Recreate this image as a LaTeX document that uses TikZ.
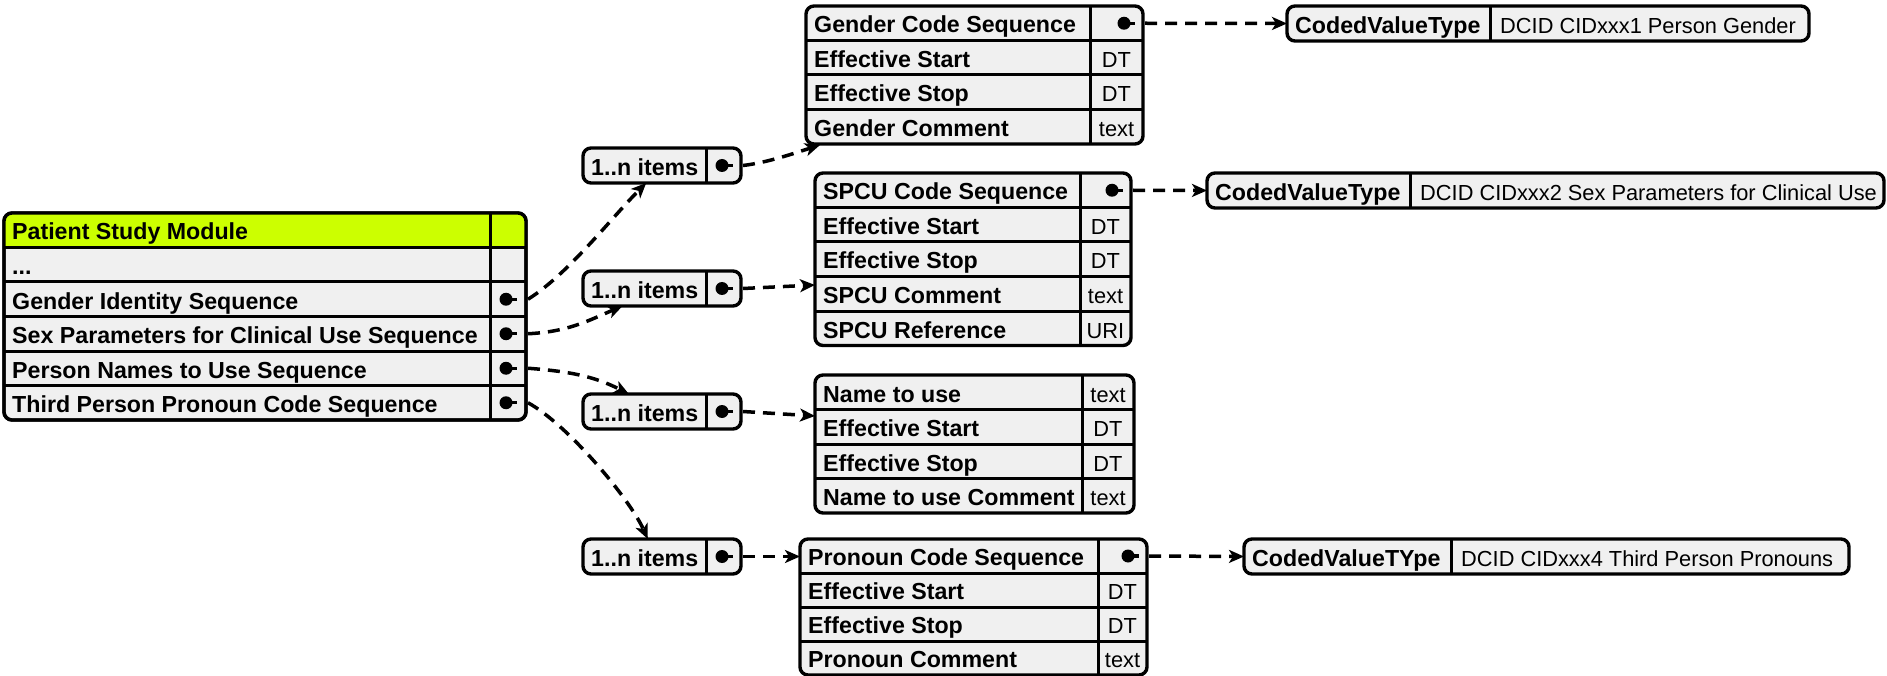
\documentclass[tikz,border=0pt]{standalone}
\usepackage{fontspec}
\setmainfont{Liberation Sans}
\usetikzlibrary{arrows.meta,calc}
\definecolor{cellgray}{RGB}{240,240,240}
\definecolor{hdrgreen}{RGB}{204,255,0}
\def\mydots{...}
\tikzset{
 frame/.style={draw=black, line width=3.4pt, rounded corners=8pt, fill=cellgray, inner sep=0pt, outer sep=0pt, anchor=north west},
 sepl/.style={line width=3pt},
 lbl/.style={anchor=base west, inner sep=0pt, font=\fontsize{23.2}{28}\selectfont\bfseries},
 val/.style={anchor=base, inner sep=0pt, font=\fontsize{21.8}{26}\selectfont},
 vall/.style={anchor=base west, inner sep=0pt, font=\fontsize{21.8}{26}\selectfont},
 dotc/.style={circle, fill=black, inner sep=0pt, minimum size=13pt},
 stub/.style={line width=3.2pt},
 link/.style={line width=3.5pt, dash pattern=on 12pt off 8pt, -{Stealth[length=15pt,width=13pt,inset=4pt]}},
}
\newcommand{\trows}[7]{%
 \foreach \a/\b [count=\i from 0] in {#7} {%
  \pgfmathsetmacro\yt{#5+#6*\i}%
  \pgfmathsetmacro\yb{#5+#6*(\i+1)}%
  \ifnum\i>0 \draw[sepl] (#2,\yt) -- (#4,\yt);\fi
  \node[lbl] (#1-l\i) at ({#2+8},{\yb-7.5}) {\a};
  \node[val] (#1-v\i) at ({(#3+#4)/2},{\yb-7.5}) {\b};
 }%
}
\begin{document}
\begin{tikzpicture}[x=1pt,y=-1pt]
\useasboundingbox (0,0) rectangle (1887,676);

% ---------- main table ----------
\node[frame, minimum width=522, minimum height=207] (pst) at (4,213) {};
\begin{scope}
 \clip[rounded corners=8pt] (pst.north west) rectangle (pst.south east);
 \fill[hdrgreen] (pst.north west) rectangle ($(pst.north east)+(0,34.5)$);
\end{scope}
\draw[line width=3.4pt, rounded corners=8pt] (pst.north west) rectangle (pst.south east);
\trows{pst}{4}{490}{526}{213}{34.5}{Patient Study Module/,\mydots/,Gender Identity Sequence/,Sex Parameters for Clinical Use Sequence/,Person Names to Use Sequence/,Third Person Pronoun Code Sequence/}
\draw[sepl] (490,213) -- (490,420);
\node[dotc] (pst-d2) at (506,299.25) {};
\node[dotc] (pst-d3) at (506,333.75) {};
\node[dotc] (pst-d4) at (506,368.25) {};
\node[dotc] (pst-d5) at (506,402.75) {};
\foreach \k in {2,3,4,5} {\draw[stub] (pst-d\k.center) -- ++(11,0);}

% ---------- 1..n items boxes ----------
\foreach \n/\yy in {box1/148,box2/271,box3/394,box4/539} {
 \node[frame, minimum width=158, minimum height=35] (\n) at (583,\yy) {};
 \draw[sepl] (706,\yy) -- (706,\yy+35);
 \node[lbl] (\n-l) at (591,\yy+27.5) {1..n items};
 \node[dotc] (\n-d) at (722,\yy+17.5) {};
 \draw[stub] (\n-d.center) -- ++(11,0);
}

% ---------- gender table ----------
\node[frame, minimum width=337, minimum height=138] (gct) at (806,6) {};
\trows{gct}{806}{1090}{1143}{6}{34.5}{Gender Code Sequence/,Effective Start/DT,Effective Stop/DT,Gender Comment/text}
\draw[sepl] (1090,6) -- (1090,144);
\node[dotc] (gct-d) at (1124,23.25) {};
\draw[stub] (gct-d.center) -- ++(11,0);

% ---------- SPCU table ----------
\node[frame, minimum width=316, minimum height=172.5] (spcu) at (815,173) {};
\trows{spcu}{815}{1080}{1131}{173}{34.5}{SPCU Code Sequence/,Effective Start/DT,Effective Stop/DT,SPCU Comment/text,SPCU Reference/URI}
\draw[sepl] (1080,173) -- (1080,345.5);
\node[dotc] (spcu-d) at (1112,190.25) {};
\draw[stub] (spcu-d.center) -- ++(11,0);

% ---------- name table ----------
\node[frame, minimum width=319, minimum height=138] (nmt) at (815,375) {};
\trows{nmt}{815}{1082}{1134}{375}{34.5}{Name to use/text,Effective Start/DT,Effective Stop/DT,Name to use Comment/text}
\draw[sepl] (1082,375) -- (1082,513);

% ---------- pronoun table ----------
\node[frame, minimum width=347, minimum height=136] (prn) at (800,539) {};
\trows{prn}{800}{1098}{1147}{539}{34}{Pronoun Code Sequence/,Effective Start/DT,Effective Stop/DT,Pronoun Comment/text}
\draw[sepl] (1098,539) -- (1098,675);
\node[dotc] (prn-d) at (1128,556) {};
\draw[stub] (prn-d.center) -- ++(11,0);

% ---------- coded value boxes ----------
\node[frame, minimum width=522, minimum height=35] (cvt1) at (1287,6) {};
\draw[sepl] (1490,6) -- (1490,41);
\node[lbl] (cvt1-l) at (1295,33.5) {CodedValueType};
\node[vall] (cvt1-v) at (1500,33.5) {DCID CIDxxx1 Person Gender};

\node[frame, minimum width=677, minimum height=35] (cvt2) at (1207,173) {};
\draw[sepl] (1410,173) -- (1410,208);
\node[lbl] (cvt2-l) at (1215,200.5) {CodedValueType};
\node[vall] (cvt2-v) at (1420,200.5) {DCID CIDxxx2 Sex Parameters for Clinical Use};

\node[frame, minimum width=605, minimum height=35] (cvt3) at (1244,539) {};
\draw[sepl] (1451,539) -- (1451,574);
\node[lbl] (cvt3-l) at (1252,566.5) {CodedValueTYpe};
\node[vall] (cvt3-v) at (1461,566.5) {DCID CIDxxx4 Third Person Pronouns};

% ---------- connector end points ----------
\coordinate (s2) at ($(pst.east |- pst-d2.center)+(2,0)$);
\coordinate (s3) at ($(pst.east |- pst-d3.center)+(2,0)$);
\coordinate (s4) at ($(pst.east |- pst-d4.center)+(2,0)$);
\coordinate (s5) at ($(pst.east |- pst-d5.center)+(2,0)$);
\coordinate (t1) at ($(box1.south west)!0.4!(box1.south east)$);
\coordinate (t2) at ($(box2.south west)!0.25!(box2.south east)$);
\coordinate (t3) at ($(box3.north west)!0.29!(box3.north east)$);
\coordinate (t4) at ($(box4.north west)!0.41!(box4.north east)$);
\coordinate (g1) at ($(gct.south west)+(14,1)$);
\coordinate (g2) at ($(spcu.north west)+(0,112)$);
\coordinate (g3) at ($(nmt.north west)+(0,41)$);
\coordinate (g4) at (prn.west |- box4.east);

% ---------- connectors ----------
\draw[link] (s2) .. controls ($(s2)+(40,-25)$) and ($(t1)+(-35,35)$) .. (t1);
\draw[link] (s3) .. controls ($(s3)+(40,-2)$) and ($(t2)+(-35,15)$) .. (t2);
\draw[link] (s4) .. controls ($(s4)+(40,3)$) and ($(t3)+(-35,-18)$) .. (t3);
\draw[link] (s5) .. controls ($(s5)+(40,22)$) and ($(t4)+(-18,-40)$) .. (t4);

\draw[link] ($(box1.east)+(2,0)$) .. controls ($(box1.east)+(27,-3)$) and ($(g1)+(-25,8)$) .. (g1);
\draw[link] ($(box2.east)+(2,0)$) -- (g2);
\draw[link] ($(box3.east)+(2,0)$) -- (g3);
\draw[link] ($(box4.east)+(2,0)$) -- (g4);

\draw[link] ($(gct.east |- gct-d.center)+(2,0)$) -- (cvt1.west);
\draw[link] ($(spcu.east |- spcu-d.center)+(2,0)$) -- (cvt2.west);
\draw[link] ($(prn.east |- prn-d.center)+(2,0)$) -- (cvt3.west);
\end{tikzpicture}
\end{document}
